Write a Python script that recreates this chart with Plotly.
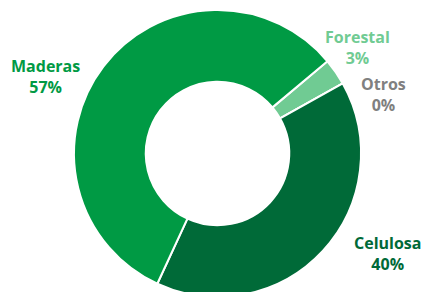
import plotly.graph_objects as go

labels = ["Forestal", "Otros", "Celulosa", "Maderas"]
values = [3, 0, 40, 57]
slice_colors = ["#70CB93", "#7F7F7F", "#006A38", "#009A44"]
label_colors = ["#70CB93", "#808080", "#006A38", "#009A44"]
# label centre positions in pixels (x, y from top)
label_pos = [(357, 47), (383, 94), (387, 253), (45, 76)]

W, H = 422, 307

fig = go.Figure(go.Pie(
    labels=labels,
    values=values,
    hole=0.5,
    sort=False,
    direction="clockwise",
    rotation=50,
    marker=dict(colors=slice_colors, line=dict(color="white", width=2)),
    textinfo="none",
    hoverinfo="label+percent",
    showlegend=False,
    domain=dict(x=[74 / W, 361 / W], y=[0, 1]),
))

total = sum(values)
for lab, v, c, (px, py) in zip(labels, values, label_colors, label_pos):
    fig.add_annotation(
        x=px / W, y=1 - py / H, xref="paper", yref="paper",
        xanchor="center", yanchor="middle",
        text=f"{lab}<br>{round(100 * v / total)}%",
        showarrow=False, align="center",
        font=dict(family="Open Sans", size=16, color=c, weight="bold"),
    )

fig.update_layout(
    width=W, height=H,
    margin=dict(l=0, r=0, t=0, b=0),
    paper_bgcolor="white", plot_bgcolor="white",
)

fig.write_html(
    "out.html",
    config={"displayModeBar": False},
    post_script="document.body.style.margin='0';document.body.style.overflow='hidden';",
)
